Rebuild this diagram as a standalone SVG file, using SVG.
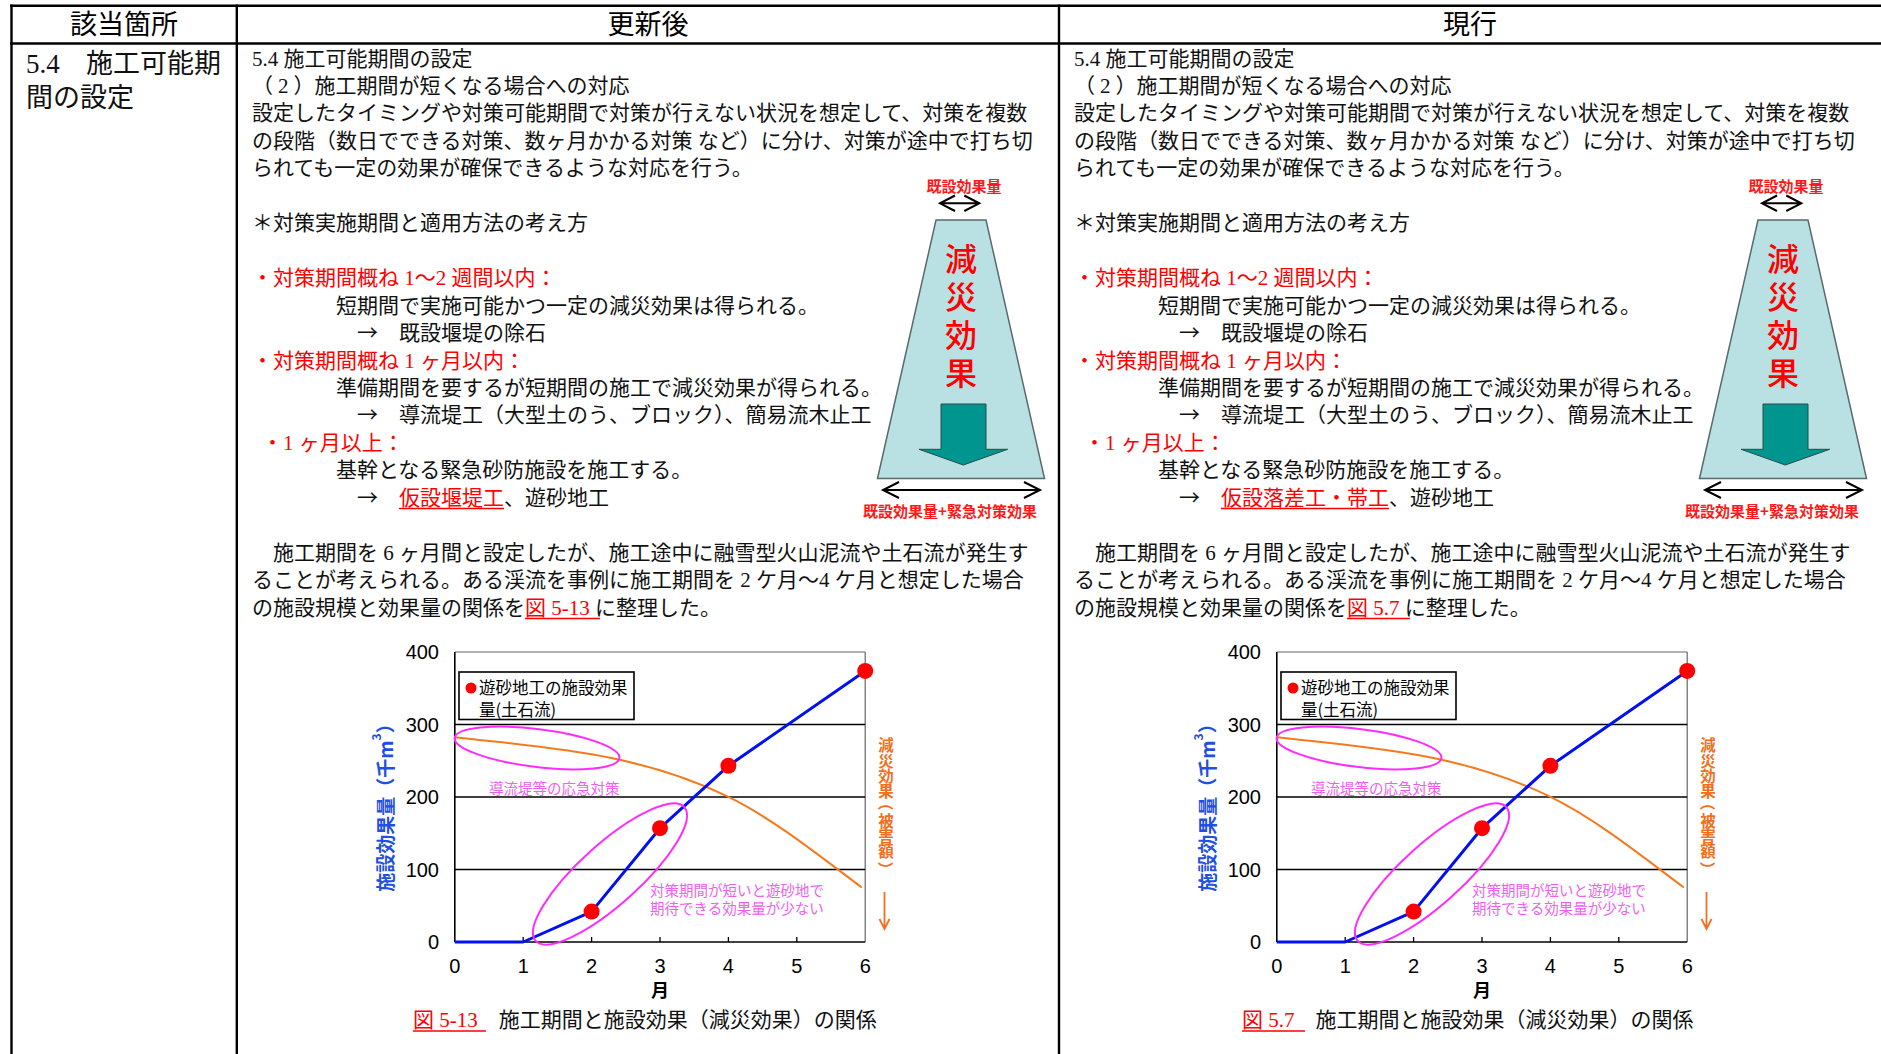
<svg xmlns="http://www.w3.org/2000/svg" width="1881" height="1054" viewBox="0 0 1881 1054">
<style>
.t{font-family:"Liberation Serif","Noto Sans CJK JP",serif;font-size:21px;fill:#111}
.j{font-family:"Noto Sans CJK JP",sans-serif}
.red{fill:#FF0000}
.hd{font-family:"Noto Sans CJK JP",sans-serif;font-size:27px;fill:#000;text-anchor:middle}
.grid{stroke:#000;stroke-width:1.3}
.frame{stroke:#666;stroke-width:1.2;fill:none}
.ax{font-family:"Liberation Sans",sans-serif;font-size:20px;fill:#000}
.mg{font-family:"Noto Sans CJK JP",sans-serif;font-size:14.5px;fill:#F060F0}
.ell{fill:none;stroke:#FF2BFF;stroke-width:2}
.ul{stroke:#FF0000;stroke-width:1.6}
.tbl{stroke:#000;stroke-width:2.4}
.dot{fill:#FF0000}
.chev{fill:none;stroke:#000;stroke-width:2}
.sm{font-family:"Noto Sans CJK JP",sans-serif;font-weight:bold;fill:#FF1A1A;text-anchor:middle}
.trap{fill:#B9E0E3;stroke:#5A6A6A;stroke-width:1.5}
.tealarrow{fill:#00968F;stroke:#2A4A4A;stroke-width:1}
.big{font-family:"Noto Sans CJK JP",sans-serif;font-size:32px;font-weight:500;fill:#FF0000;writing-mode:vertical-rl;letter-spacing:6px}
.blue{fill:none;stroke:#0010F0;stroke-width:3;stroke-linejoin:round}
.orange{fill:none;stroke:#F57A1E;stroke-width:2}
.leg{font-family:"Noto Sans CJK JP",sans-serif;font-size:16.5px;fill:#000}
.olab{font-family:"Noto Sans CJK JP",sans-serif;font-size:15.5px;font-weight:bold;fill:#F07020;text-anchor:middle}
.ylab{font-family:"Noto Sans CJK JP",sans-serif;font-size:19px;font-weight:bold;fill:#1F50E0;text-anchor:middle}
.mon{font-family:"Noto Sans CJK JP",sans-serif;font-size:18px;font-weight:bold;text-anchor:middle}
</style>

<g id="table">
  <line class="tbl" x1="10" y1="5.7" x2="1881" y2="5.7"/>
  <line class="tbl" x1="10" y1="43.5" x2="1881" y2="43.5"/>
  <line class="tbl" x1="11.5" y1="4.5" x2="11.5" y2="1054"/>
  <line class="tbl" x1="236.8" y1="4.5" x2="236.8" y2="1054"/>
  <line class="tbl" x1="1059" y1="4.5" x2="1059" y2="1054"/>
</g>

<g id="header">
  <text class="hd" x="124" y="34">該当箇所</text>
  <text class="hd" x="648" y="34">更新後</text>
  <text class="hd" x="1470" y="34">現行</text>
</g>

<g id="cell-location" class="t" style="font-size:27px">
  <text x="26" y="73">5.4 <tspan x="86">施工可能期</tspan></text>
  <text x="26" y="107">間の設定</text>
</g>

<g id="col-new">
  <g id="text-new" class="t">
    <text x="252" y="65.5">5.4 施工可能期間の設定</text>
    <text x="252" y="93">（<tspan dx="5">2</tspan><tspan dx="5">）施工期間が短くなる場合への対応</tspan></text>
    <text x="252" y="120.4">設定したタイミングや対策可能期間で対策が行えない状況を想定して、対策を複数</text>
    <text x="252" y="147.9">の段階（数日でできる対策、数ヶ月かかる対策 など）に分け、対策が途中で打ち切</text>
    <text x="252" y="175.3">られても一定の効果が確保できるような対応を行う。</text>
    <text x="252" y="230.2">＊対策実施期間と適用方法の考え方</text>
    <text x="252" y="285.1" class="red">・対策期間概ね 1〜2 週間以内：</text>
    <text x="336" y="312.6">短期間で実施可能かつ一定の減災効果は得られる。</text>
    <text x="357" y="340" class="j">→</text>
    <text x="399" y="340">既設堰堤の除石</text>
    <text x="252" y="367.5" class="red">・対策期間概ね 1 ヶ月以内：</text>
    <text x="336" y="395">準備期間を要するが短期間の施工で減災効果が得られる。</text>
    <text x="357" y="422.4" class="j">→</text>
    <text x="399" y="422.4">導流堤工（大型土のう、ブロック）、簡易流木止工</text>
    <text x="262" y="449.8" class="red">・1 ヶ月以上：</text>
    <text x="336" y="477.3">基幹となる緊急砂防施設を施工する。</text>
    <text x="357" y="504.7" class="j">→</text>
    <text x="399" y="504.7"><tspan class="red">仮設堰堤工</tspan>、遊砂地工</text>
    <line class="ul" x1="399" y1="508.5" x2="504" y2="508.5"/>
    <text x="252" y="559.6">　施工期間を 6 ヶ月間と設定したが、施工途中に融雪型火山泥流や土石流が発生す</text>
    <text x="252" y="587">ることが考えられる。ある渓流を事例に施工期間を 2 ケ月〜4 ケ月と想定した場合</text>
    <text x="252" y="614.5">の施設規模と効果量の関係を<tspan class="red">図 5-13</tspan> に整理した。</text>
    <line class="ul" x1="525" y1="618.5" x2="600" y2="618.5"/>
    <text x="413" y="1027"><tspan class="red">図 5-13</tspan>　施工期間と施設効果（減災効果）の関係</text>
    <line class="ul" x1="413" y1="1031" x2="486" y2="1031"/>
  </g>

  <g id="effect-new">
    <polygon class="trap" points="936,220 986,220 1044.5,478.5 877.5,478.5"/>
    <text class="big" x="961" y="243">減災効果</text>
    <polygon class="tealarrow" points="941,404 986,404 986,449.3 1007.7,449.3 963.3,465 919,449.3 941,449.3"/>
    <text class="sm" x="964" y="191.5" font-size="15">既設効果量</text>
    <text class="sm" x="950" y="516.5" font-size="15">既設効果量+緊急対策効果</text>
  </g>

  <g id="chart-new">
    <line class="frame" x1="454.8" y1="652" x2="865.2" y2="652"/>
    <line class="frame" x1="865.2" y1="652" x2="865.2" y2="942"/>
    <line class="grid" x1="454.8" y1="724.5" x2="865.2" y2="724.5"/>
    <line class="grid" x1="454.8" y1="797" x2="865.2" y2="797"/>
    <line class="grid" x1="454.8" y1="869.5" x2="865.2" y2="869.5"/>
    <line stroke="#000" stroke-width="1.6" x1="454.8" y1="652" x2="454.8" y2="942"/>
    <line stroke="#000" stroke-width="1.6" x1="454.8" y1="942" x2="865.2" y2="942"/>
    <path stroke="#000" stroke-width="1.3" d="M523.2,942V937M591.6,942V937M660,942V937M728.4,942V937M796.8,942V937"/>
    <g class="ax" text-anchor="end">
      <text x="439" y="659">400</text>
      <text x="439" y="731.5">300</text>
      <text x="439" y="804">200</text>
      <text x="439" y="876.5">100</text>
      <text x="439" y="949">0</text>
    </g>
    <g class="ax" text-anchor="middle">
      <text x="454.8" y="973">0</text>
      <text x="523.2" y="973">1</text>
      <text x="591.6" y="973">2</text>
      <text x="660" y="973">3</text>
      <text x="728.4" y="973">4</text>
      <text x="796.8" y="973">5</text>
      <text x="865.2" y="973">6</text>
    </g>
    <text class="mon" x="660" y="997">月</text>
    <rect x="459" y="672" width="175" height="47.5" fill="#fff" stroke="#000" stroke-width="1.6"/>
    <circle class="dot" cx="471" cy="688" r="5.5"/>
    <text class="leg" x="479" y="694">遊砂地工の施設効果</text>
    <text class="leg" x="479" y="715.5">量(土石流)</text>
    <path class="orange" d="M454,737 C545,748 637,752 728,796.7 C773,818.7 816.8,853.8 861.8,887.5"/>
    <polyline class="blue" points="454.8,942 523.2,942 591.6,911.6 660,828.2 728.4,765.8 865.2,670.9"/>
    <circle class="dot" cx="591.6" cy="911.6" r="8"/>
    <circle class="dot" cx="660" cy="828.2" r="8"/>
    <circle class="dot" cx="728.4" cy="765.8" r="8"/>
    <circle class="dot" cx="865.2" cy="670.9" r="8"/>
    <ellipse class="ell" cx="537" cy="748" rx="83" ry="19" transform="rotate(7 537 748)"/>
    <ellipse class="ell" cx="610" cy="874" rx="100" ry="30" transform="rotate(-42 610 874)"/>
    <text class="mg" x="489" y="793.5">導流堤等の応急対策</text>
    <text class="mg" x="650" y="896">対策期間が短いと遊砂地で</text>
    <text class="mg" x="650" y="914">期待できる効果量が少ない</text>
    <text class="ylab" x="0" y="0" transform="translate(384 803) rotate(-90)" dominant-baseline="central">施設効果量（千m<tspan font-size="12" baseline-shift="super">3</tspan>）</text>
    <text class="olab" x="886 886 886 886 888 886 886 886 888" y="751.4 766.5 781.6 796.7 795.1 826.9 842 857.1 861.6" rotate="0 0 0 0 90 0 0 0 90">減災効果（被害額）</text>
  </g>

  <g id="connectors-new">
    <path class="chev" d="M940,203.3H979.3M955,195.5L940,203.3L955,211M964.3,195.5L979.3,203.3L964.3,211"/>
    <path class="chev" d="M883,490H1040M899,482L883,490L899,498M1024,482L1040,490L1024,498"/>
    <path fill="none" stroke="#F07020" stroke-width="1.8" d="M884.5,892V928M879.5,919L884.5,929L889.5,919"/>
  </g>
</g>

<g id="col-cur" transform="translate(822,0)">
  <g id="text-cur" class="t">
    <text x="252" y="65.5">5.4 施工可能期間の設定</text>
    <text x="252" y="93">（<tspan dx="5">2</tspan><tspan dx="5">）施工期間が短くなる場合への対応</tspan></text>
    <text x="252" y="120.4">設定したタイミングや対策可能期間で対策が行えない状況を想定して、対策を複数</text>
    <text x="252" y="147.9">の段階（数日でできる対策、数ヶ月かかる対策 など）に分け、対策が途中で打ち切</text>
    <text x="252" y="175.3">られても一定の効果が確保できるような対応を行う。</text>
    <text x="252" y="230.2">＊対策実施期間と適用方法の考え方</text>
    <text x="252" y="285.1" class="red">・対策期間概ね 1〜2 週間以内：</text>
    <text x="336" y="312.6">短期間で実施可能かつ一定の減災効果は得られる。</text>
    <text x="357" y="340" class="j">→</text>
    <text x="399" y="340">既設堰堤の除石</text>
    <text x="252" y="367.5" class="red">・対策期間概ね 1 ヶ月以内：</text>
    <text x="336" y="395">準備期間を要するが短期間の施工で減災効果が得られる。</text>
    <text x="357" y="422.4" class="j">→</text>
    <text x="399" y="422.4">導流堤工（大型土のう、ブロック）、簡易流木止工</text>
    <text x="262" y="449.8" class="red">・1 ヶ月以上：</text>
    <text x="336" y="477.3">基幹となる緊急砂防施設を施工する。</text>
    <text x="357" y="504.7" class="j">→</text>
    <text x="399" y="504.7"><tspan class="red">仮設落差工・帯工</tspan>、遊砂地工</text>
    <line class="ul" x1="399" y1="508.5" x2="567" y2="508.5"/>
    <text x="252" y="559.6">　施工期間を 6 ヶ月間と設定したが、施工途中に融雪型火山泥流や土石流が発生す</text>
    <text x="252" y="587">ることが考えられる。ある渓流を事例に施工期間を 2 ケ月〜4 ケ月と想定した場合</text>
    <text x="252" y="614.5">の施設規模と効果量の関係を<tspan class="red">図 5.7</tspan> に整理した。</text>
    <line class="ul" x1="525" y1="618.5" x2="588" y2="618.5"/>
    <text x="420" y="1027"><tspan class="red">図 5.7</tspan>　施工期間と施設効果（減災効果）の関係</text>
    <line class="ul" x1="420" y1="1031" x2="483" y2="1031"/>
  </g>

  <g id="effect-cur">
    <polygon class="trap" points="936,220 986,220 1044.5,478.5 877.5,478.5"/>
    <text class="big" x="961" y="243">減災効果</text>
    <polygon class="tealarrow" points="941,404 986,404 986,449.3 1007.7,449.3 963.3,465 919,449.3 941,449.3"/>
    <text class="sm" x="964" y="191.5" font-size="15">既設効果量</text>
    <text class="sm" x="950" y="516.5" font-size="15">既設効果量+緊急対策効果</text>
  </g>

  <g id="chart-cur">
    <line class="frame" x1="454.8" y1="652" x2="865.2" y2="652"/>
    <line class="frame" x1="865.2" y1="652" x2="865.2" y2="942"/>
    <line class="grid" x1="454.8" y1="724.5" x2="865.2" y2="724.5"/>
    <line class="grid" x1="454.8" y1="797" x2="865.2" y2="797"/>
    <line class="grid" x1="454.8" y1="869.5" x2="865.2" y2="869.5"/>
    <line stroke="#000" stroke-width="1.6" x1="454.8" y1="652" x2="454.8" y2="942"/>
    <line stroke="#000" stroke-width="1.6" x1="454.8" y1="942" x2="865.2" y2="942"/>
    <path stroke="#000" stroke-width="1.3" d="M523.2,942V937M591.6,942V937M660,942V937M728.4,942V937M796.8,942V937"/>
    <g class="ax" text-anchor="end">
      <text x="439" y="659">400</text>
      <text x="439" y="731.5">300</text>
      <text x="439" y="804">200</text>
      <text x="439" y="876.5">100</text>
      <text x="439" y="949">0</text>
    </g>
    <g class="ax" text-anchor="middle">
      <text x="454.8" y="973">0</text>
      <text x="523.2" y="973">1</text>
      <text x="591.6" y="973">2</text>
      <text x="660" y="973">3</text>
      <text x="728.4" y="973">4</text>
      <text x="796.8" y="973">5</text>
      <text x="865.2" y="973">6</text>
    </g>
    <text class="mon" x="660" y="997">月</text>
    <rect x="459" y="672" width="175" height="47.5" fill="#fff" stroke="#000" stroke-width="1.6"/>
    <circle class="dot" cx="471" cy="688" r="5.5"/>
    <text class="leg" x="479" y="694">遊砂地工の施設効果</text>
    <text class="leg" x="479" y="715.5">量(土石流)</text>
    <path class="orange" d="M454,737 C545,748 637,752 728,796.7 C773,818.7 816.8,853.8 861.8,887.5"/>
    <polyline class="blue" points="454.8,942 523.2,942 591.6,911.6 660,828.2 728.4,765.8 865.2,670.9"/>
    <circle class="dot" cx="591.6" cy="911.6" r="8"/>
    <circle class="dot" cx="660" cy="828.2" r="8"/>
    <circle class="dot" cx="728.4" cy="765.8" r="8"/>
    <circle class="dot" cx="865.2" cy="670.9" r="8"/>
    <ellipse class="ell" cx="537" cy="748" rx="83" ry="19" transform="rotate(7 537 748)"/>
    <ellipse class="ell" cx="610" cy="874" rx="100" ry="30" transform="rotate(-42 610 874)"/>
    <text class="mg" x="489" y="793.5">導流堤等の応急対策</text>
    <text class="mg" x="650" y="896">対策期間が短いと遊砂地で</text>
    <text class="mg" x="650" y="914">期待できる効果量が少ない</text>
    <text class="ylab" x="0" y="0" transform="translate(384 803) rotate(-90)" dominant-baseline="central">施設効果量（千m<tspan font-size="12" baseline-shift="super">3</tspan>）</text>
    <text class="olab" x="886 886 886 886 888 886 886 886 888" y="751.4 766.5 781.6 796.7 795.1 826.9 842 857.1 861.6" rotate="0 0 0 0 90 0 0 0 90">減災効果（被害額）</text>
  </g>

  <g id="connectors-cur">
    <path class="chev" d="M940,203.3H979.3M955,195.5L940,203.3L955,211M964.3,195.5L979.3,203.3L964.3,211"/>
    <path class="chev" d="M883,490H1040M899,482L883,490L899,498M1024,482L1040,490L1024,498"/>
    <path fill="none" stroke="#F07020" stroke-width="1.8" d="M884.5,892V928M879.5,919L884.5,929L889.5,919"/>
  </g>
</g>
</svg>
